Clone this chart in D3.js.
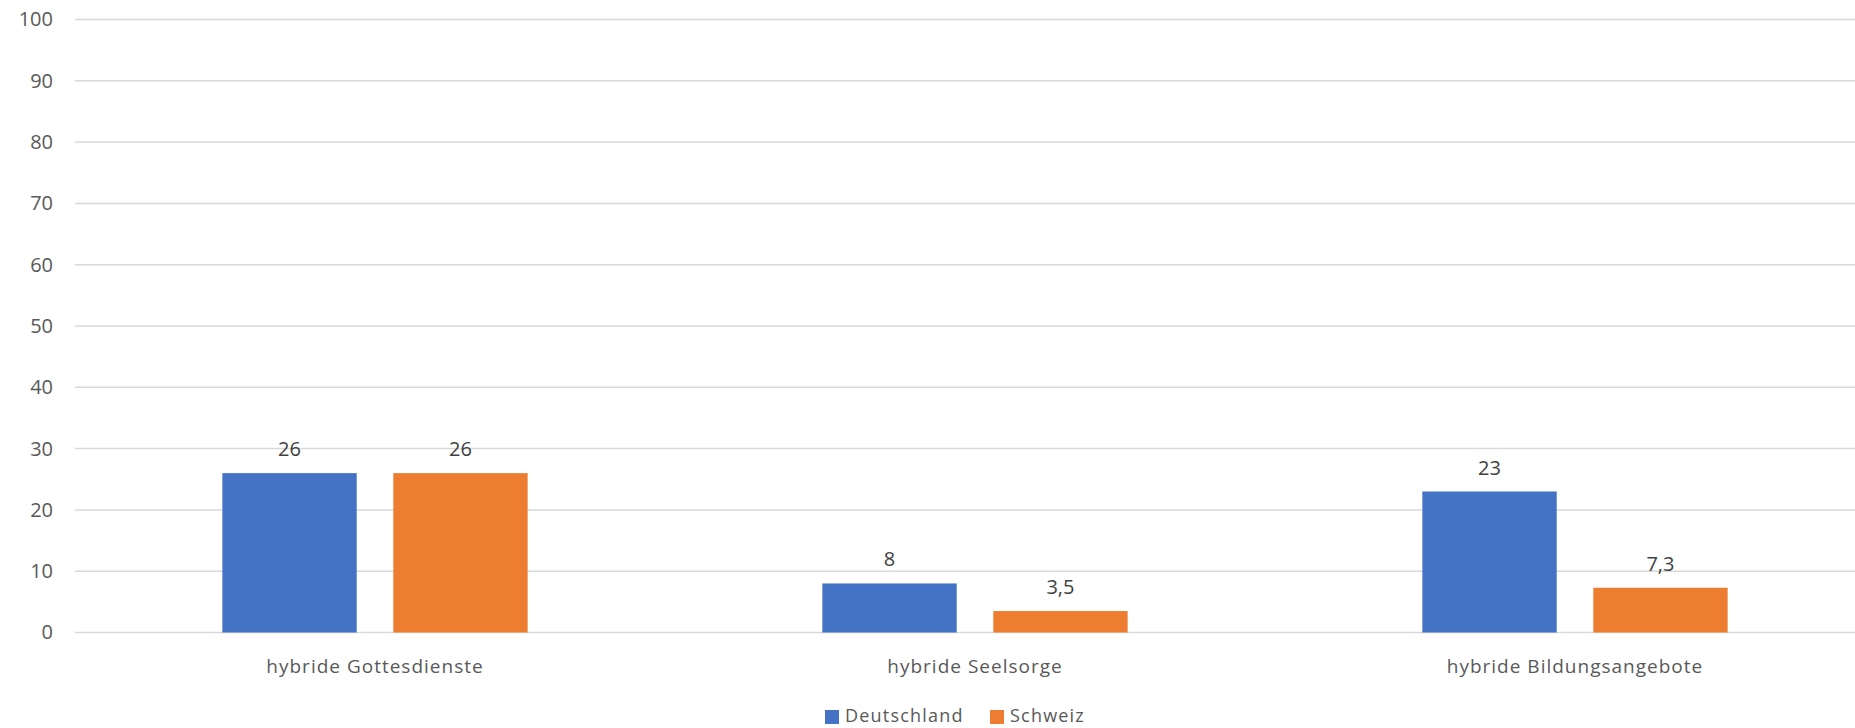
<!DOCTYPE html>
<html>
<head>
<meta charset="utf-8">
<script src="https://cdn.jsdelivr.net/npm/d3@7"></script>
<style>
  html, body { margin: 0; padding: 0; background: #fff; overflow: hidden; }
  svg { display: block; }
  text { font-family: "Open Sans", "Liberation Sans", sans-serif; }
</style>
</head>
<body>
<svg id="chart" width="1855" height="728"></svg>
<script>
// Angebote (Anteil in Prozent)
const categories = ["hybride Gottesdienste", "hybride Seelsorge", "hybride Bildungsangebote"];
const seriesNames = ["Deutschland", "Schweiz"];
const deutschland = [26, 8, 23];
const schweiz = [26, 3.5, 7.3];
const yTicks = [0, 10, 20, 30, 40, 50, 60, 70, 80, 90, 100];
const colors = ["#4472C4", "#ED7D31"];

const seriesValues = [deutschland, schweiz];
const fmt = v => String(v).replace(".", ",");

const svg = d3.select("#chart");
const W = 1855;

// plot area; the band grid runs slightly past the right edge of the canvas
const plot = { left: 75, right: 1875, top: 19.5, bottom: 632.5 };

const x = d3.scaleBand().domain(categories).range([plot.left, plot.right]).paddingInner(0).paddingOuter(0);
const xs = d3.scaleBand().domain(seriesNames).range([0, x.bandwidth()]).paddingInner(0.214).paddingOuter(0.862);
const y = d3.scaleLinear().domain([0, 100]).range([plot.bottom, plot.top]);

// horizontal gridlines
svg.append("g")
  .selectAll("line")
  .data(yTicks)
  .join("line")
  .attr("x1", plot.left)
  .attr("x2", W)
  .attr("y1", d => y(d))
  .attr("y2", d => y(d))
  .attr("stroke", "#d9d9d9")
  .attr("stroke-width", 1.5);

// y axis labels
const yAxis = d3.axisLeft(y).tickValues(yTicks).tickSize(0).tickPadding(0).tickFormat(d => d);
svg.append("g")
  .attr("transform", `translate(${plot.left - 22},0)`)
  .call(yAxis)
  .call(g => g.select(".domain").remove())
  .call(g => g.selectAll("text")
    .attr("font-family", "'Open Sans', sans-serif")
    .attr("font-size", 20)
    .attr("fill", "#595959"));

// bars
const groups = svg.append("g")
  .selectAll("g")
  .data(seriesNames.map((s, i) => ({ name: s, values: seriesValues[i], color: colors[i] })))
  .join("g")
  .attr("fill", d => d.color);

groups.selectAll("rect")
  .data(d => d.values.map((v, j) => ({ series: d.name, cat: categories[j], value: v })))
  .join("rect")
  .attr("x", d => x(d.cat) + xs(d.series))
  .attr("width", xs.bandwidth())
  .attr("y", d => y(d.value))
  .attr("height", d => y(0) - y(d.value));

// value labels
groups.selectAll("text")
  .data(d => d.values.map((v, j) => ({ series: d.name, cat: categories[j], value: v })))
  .join("text")
  .attr("x", d => x(d.cat) + xs(d.series) + xs.bandwidth() / 2)
  .attr("y", d => y(d.value) - 24)
  .attr("dy", "0.35em")
  .attr("text-anchor", "middle")
  .attr("font-size", 20)
  .attr("fill", "#404040")
  .text(d => fmt(d.value));

// category labels
svg.append("g")
  .selectAll("text")
  .data(categories)
  .join("text")
  .attr("x", d => x(d) + x.bandwidth() / 2)
  .attr("y", 672.5)
  .attr("text-anchor", "middle")
  .attr("font-size", 19)
  .attr("letter-spacing", 1)
  .attr("fill", "#595959")
  .text(d => d);

// legend
const legend = svg.append("g").attr("transform", "translate(825,710)");
const legendX = [0, 165];
const items = legend.selectAll("g")
  .data(seriesNames)
  .join("g")
  .attr("transform", (d, i) => `translate(${legendX[i]},0)`);
items.append("rect")
  .attr("width", 14)
  .attr("height", 14)
  .attr("fill", (d, i) => colors[i]);
items.append("text")
  .attr("x", 20)
  .attr("y", 6)
  .attr("dy", "0.35em")
  .attr("font-size", 18)
  .attr("letter-spacing", 1.2)
  .attr("fill", "#595959")
  .text(d => d);
</script>
</body>
</html>
